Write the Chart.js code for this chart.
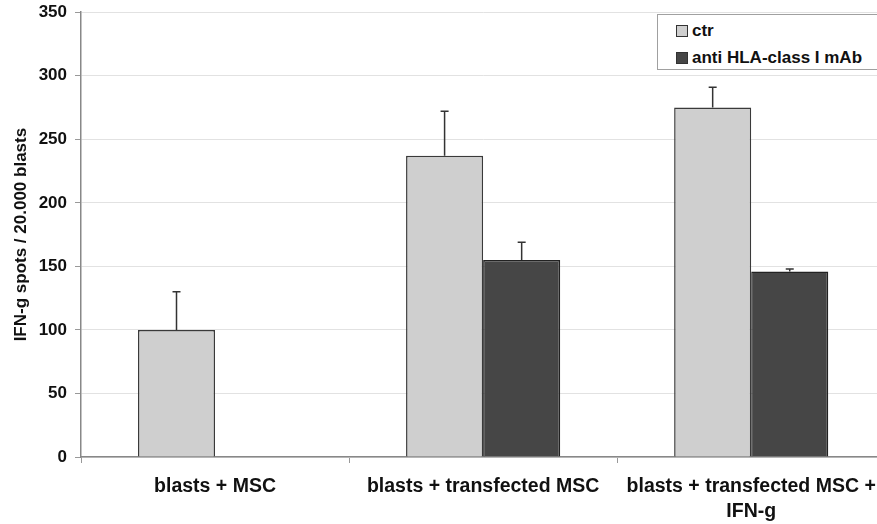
<!DOCTYPE html>
<html>
<head>
<meta charset="utf-8">
<script src="https://cdn.jsdelivr.net/npm/chart.js@4/dist/chart.umd.min.js"></script>
<style>
  html, body { margin: 0; padding: 0; background: #fff; overflow: hidden; width: 877px; height: 524px; }
  #wrap { position: absolute; left: 0; top: -6px; width: 887px; height: 530px; }
  #legend { position: absolute; left: 657px; top: 14px; width: 240px; height: 54px; border: 1px solid #a0a0a0; background: #fff;
    font-family: "Liberation Sans", Arial, sans-serif; font-weight: bold; font-size: 17px; color: #111; }
  .item { position: absolute; left: 18px; height: 20px; line-height: 20px; white-space: nowrap; }
  .sw { display: inline-block; width: 10px; height: 10px; border: 1px solid #333; margin-right: 4px; vertical-align: -1px; }
</style>
</head>
<body>
<div id="wrap"><canvas id="c"></canvas></div>
<div id="legend"></div>
<script>
const categories = [
  "blasts + MSC",
  "blasts + transfected MSC",
  ["blasts + transfected MSC +", "IFN-g"]
];
const seriesNames = ["ctr", "anti HLA-class I mAb"];
const ctrValues = [100, 237, 275];
const ctrErrors = [30, 35, 16];
const antiValues = [null, 155, 146];
const antiErrors = [null, 14, 2];
const yTicks = [0, 50, 100, 150, 200, 250, 300, 350];
const yTitle = "IFN-g spots / 20.000 blasts";
const fillColors = ["#cfcfcf", "#464646"];
const borderColors = ["#3a3a3a", "#222222"];

const FONT = "'Liberation Sans', Arial, sans-serif";

const errorBars = {
  id: "errorBars",
  afterDatasetsDraw(chart) {
    const ctx = chart.ctx;
    const y = chart.scales.y;
    ctx.save();
    ctx.strokeStyle = "#333";
    ctx.lineWidth = 1.5;
    chart.data.datasets.forEach((ds, di) => {
      const meta = chart.getDatasetMeta(di);
      ds.values.forEach((v, i) => {
        const e = ds.errors[i];
        if (v == null || e == null) return;
        const bar = meta.data[i];
        const x = bar.x;
        const y0 = y.getPixelForValue(v);
        const y1 = y.getPixelForValue(v + e);
        ctx.beginPath();
        ctx.moveTo(x, y0);
        ctx.lineTo(x, y1);
        ctx.moveTo(x - 4, y1);
        ctx.lineTo(x + 4, y1);
        ctx.stroke();
      });
    });
    ctx.restore();
  }
};

const chart = new Chart(document.getElementById("c"), {
  type: "bar",
  data: {
    labels: categories,
    datasets: [
      { label: seriesNames[0], data: ctrValues, values: ctrValues, errors: ctrErrors,
        backgroundColor: fillColors[0], borderColor: borderColors[0], borderWidth: 1.5 },
      { label: seriesNames[1], data: antiValues, values: antiValues, errors: antiErrors,
        backgroundColor: fillColors[1], borderColor: borderColors[1], borderWidth: 1.5 }
    ]
  },
  options: {
    responsive: true,
    maintainAspectRatio: false,
    animation: false,
    devicePixelRatio: 1,
    layout: { padding: { top: 6, right: 1, left: 0, bottom: 0 } },
    plugins: { legend: { display: false }, tooltip: { enabled: false } },
    datasets: { bar: { categoryPercentage: 0.575, barPercentage: 1.0 } },
    scales: {
      x: {
        grid: { display: true, drawOnChartArea: false, tickLength: 6, tickColor: "#999", offset: true },
        border: { display: true, color: "#888", width: 1.5 },
        ticks: { color: "#111", padding: 11, font: { family: FONT, weight: "bold", size: 19.5, lineHeight: 1.3 }, maxRotation: 0, autoSkip: false },
        afterFit(s) { s.height = 67; }
      },
      y: {
        min: 0, max: 350,
        afterBuildTicks(s) { s.ticks = yTicks.map(v => ({ value: v })); },
        grid: { color: "#e2e2e2", lineWidth: 1, tickLength: 6, tickColor: "#999" },
        border: { display: true, color: "#888", width: 1.5 },
        ticks: { color: "#111", padding: 8, font: { family: FONT, weight: "bold", size: 17 } },
        title: { display: true, text: yTitle, color: "#111", padding: { top: 11, bottom: 0 }, font: { family: FONT, weight: "bold", size: 17 } },
        afterFit(s) { s.width = 81; }
      }
    }
  },
  plugins: [errorBars]
});

const legend = document.getElementById("legend");
chart.data.datasets.forEach((ds, i) => {
  const it = document.createElement("div");
  it.className = "item";
  it.style.top = (6 + i * 27) + "px";
  const sw = document.createElement("span");
  sw.className = "sw";
  sw.style.background = ds.backgroundColor;
  it.appendChild(sw);
  it.appendChild(document.createTextNode(ds.label));
  legend.appendChild(it);
});
</script>
</body>
</html>
